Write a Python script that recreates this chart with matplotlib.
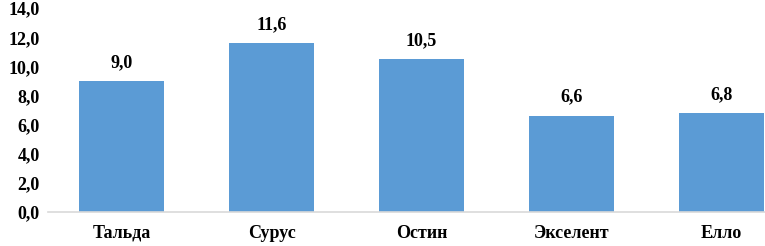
import matplotlib.pyplot as plt

categories = ['Тальда', 'Сурус', 'Остин', 'Экселент', 'Елло']
values = [9.0, 11.6, 10.5, 6.6, 6.8]
yticks = [0, 2, 4, 6, 8, 10, 12, 14]

plt.rcParams['font.family'] = ['Liberation Serif', 'DejaVu Serif']
plt.rcParams['font.weight'] = 'bold'

fig = plt.figure(figsize=(7.65, 2.46), dpi=100)
ax = fig.add_axes([0.063, 0.138, 0.937, 0.829])

x = range(len(categories))
bars = ax.bar(x, values, width=0.567, color='#5B9BD5', zorder=2)

for b, v in zip(bars, values):
    ax.text(b.get_x() + b.get_width() / 2, v + 0.7, f'{v:.1f}'.replace('.', ','),
            ha='center', va='bottom', fontsize=13, fontweight='bold')

ax.set_xlim(-0.49, 4.29)
ax.set_ylim(0, 14)
ax.set_xticks(list(x))
ax.set_xticklabels(categories, fontsize=13, fontweight='bold')
ax.set_yticks(yticks)
ax.set_yticklabels([f'{t:.1f}'.replace('.', ',') for t in yticks], fontsize=13, fontweight='bold')

for s in ['top', 'right', 'left']:
    ax.spines[s].set_visible(False)
ax.spines['bottom'].set_color('#D9D9D9')
ax.spines['bottom'].set_linewidth(1.2)
ax.tick_params(length=0)
ax.tick_params(axis='x', pad=9)
ax.tick_params(axis='y', pad=6)

fig.savefig('out.png', dpi=100)
